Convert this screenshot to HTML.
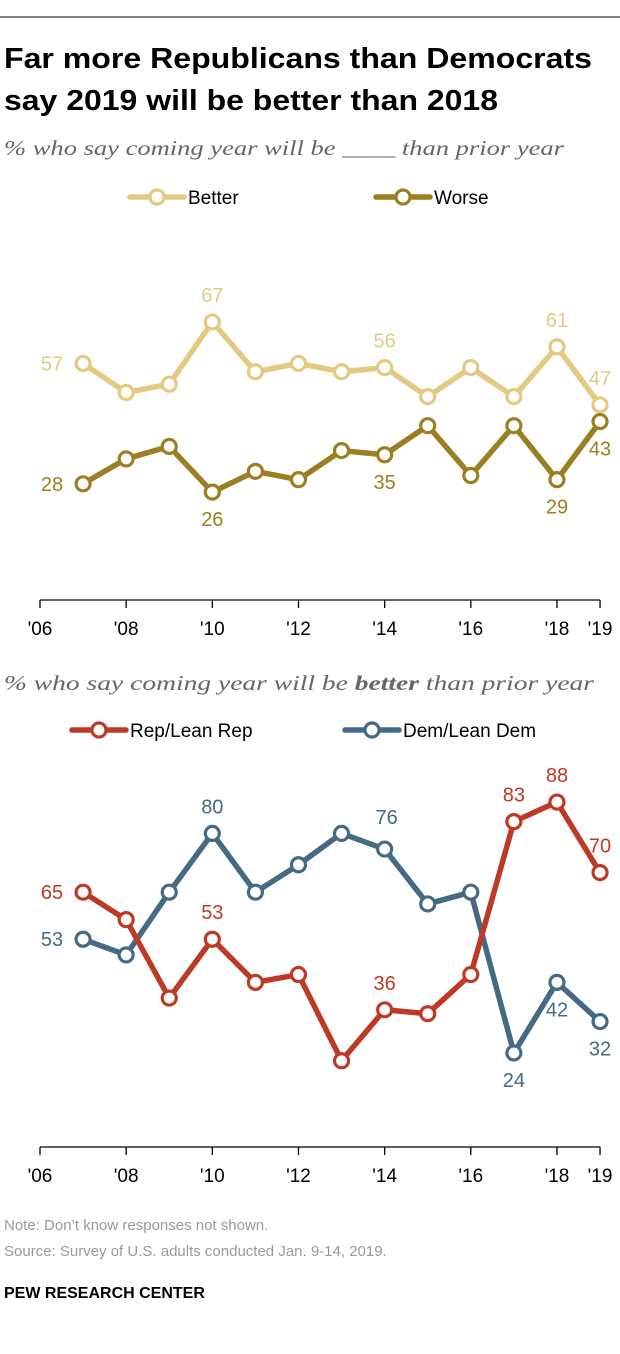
<!DOCTYPE html>
<html><head><meta charset="utf-8"><style>
body{margin:0;background:#fff;}
svg{display:block;font-family:"Liberation Sans",sans-serif;}
</style></head><body>
<svg id="c" width="620" height="1354" viewBox="0 0 620 1354" xmlns="http://www.w3.org/2000/svg">
<rect width="620" height="1354" fill="#fff"/>
<line x1="0" y1="17" x2="620" y2="17" stroke="#000" stroke-width="1"/>
<text x="4" y="68" font-size="29" font-weight="bold" fill="#000" textLength="588" lengthAdjust="spacingAndGlyphs">Far more Republicans than Democrats</text>
<text x="4" y="110" font-size="29" font-weight="bold" fill="#000" textLength="494" lengthAdjust="spacingAndGlyphs">say 2019 will be better than 2018</text>
<text x="4" y="155" font-size="21" font-style="italic" fill="#666" font-family="Liberation Serif,serif" textLength="560" lengthAdjust="spacingAndGlyphs">% who say coming year will be ____ than prior year</text>
<text x="4" y="690" font-size="21" font-style="italic" fill="#666" font-family="Liberation Serif,serif" textLength="590" lengthAdjust="spacingAndGlyphs">% who say coming year will be <tspan font-weight="bold">better</tspan> than prior year</text>
<g id="topc"></g>
<g id="botc"></g>
<text x="4" y="1230" font-size="15" fill="#999">Note: Don’t know responses not shown.</text>
<text x="4" y="1256" font-size="15" fill="#999">Source: Survey of U.S. adults conducted Jan. 9-14, 2019.</text>
<text x="4" y="1298" font-size="16" font-weight="bold" fill="#000">PEW RESEARCH CENTER</text>
</svg>
<script>
const years=[2007,2008,2009,2010,2011,2012,2013,2014,2015,2016,2017,2018,2019];
const tickYears=[2006,2008,2010,2012,2014,2016,2018,2019];
const tickLabels=["'06","'08","'10","'12","'14","'16","'18","'19"];
const better=[57,50,52,67,55,57,55,56,49,56,49,61,47];
const worse=[28,34,37,26,31,29,36,35,42,30,42,29,43];
const rep=[65,58,38,53,42,44,22,35,34,44,83,88,70];
const dem=[53,49,65,80,65,72,80,76,62,65,24,42,32];
const betterLabels=[[0,"57","left"],[3,"67","up"],[7,"56","up"],[11,"61","up"],[12,"47","up"]];
const worseLabels=[[0,"28","left"],[3,"26","down"],[7,"35","down"],[11,"29","down"],[12,"43","down"]];
const repLabels=[[0,"65","left"],[3,"53","up"],[7,"36","up"],[10,"83","up"],[11,"88","up"],[12,"70","up"]];
const demLabels=[[0,"53","left"],[3,"80","up"],[7,"76","upr"],[10,"24","down"],[11,"42","down"],[12,"32","down"]];

const NS="http://www.w3.org/2000/svg";
const xs=yr=>40+(yr-2006)*43.08;
function mk(p,tag,at){const e=document.createElementNS(NS,tag);for(const k in at)e.setAttribute(k,at[k]);p.appendChild(e);return e;}
function axis(g,y0){
  const l=mk(g,'line',{x1:xs(2006),x2:xs(2019),y1:y0,y2:y0,stroke:'#000','stroke-width':1.3});
  
  
  tickYears.forEach((t,i)=>{
    const tk=mk(g,'line',{x1:xs(t),x2:xs(t),y1:y0,y2:y0+8,stroke:'#000','stroke-width':1.3});
    
    
    const tx=mk(g,'text',{x:xs(t),y:y0+35,'font-size':19,'text-anchor':'middle',fill:'#000'});
    tx.textContent=tickLabels[i];
    
    
  });
}
function series(g,vals,yf,color,name,labels){
  const pts=vals.map((v,i)=>xs(years[i])+','+yf(v)).join(' ');
  const pl=mk(g,'polyline',{points:pts,fill:'none',stroke:color,'stroke-width':5.5,'stroke-linejoin':'round'});
  
  
  vals.forEach((v,i)=>{
    const c=mk(g,'circle',{cx:xs(years[i]),cy:yf(v),r:7,fill:'#fff',stroke:color,'stroke-width':3.2});
    
    
  });
  labels.forEach(([i,t,pos])=>{
    let px=xs(years[i]),py=yf(vals[i]),anchor='middle';
    if(pos==='left'){px-=20;py+=7;anchor='end';}
    else if(pos==='up'){py-=20;}
    else if(pos==='upr'){px+=2;py-=25;}
    else {py+=34;}
    const tx=mk(g,'text',{x:px,y:py,'font-size':20,'text-anchor':anchor,fill:color});
    tx.textContent=t;
    
    
  });
}
function legend(g,y,items){
  items.forEach(([x0,color,label,name])=>{
    const l=mk(g,'line',{x1:x0,x2:x0+54,y1:y,y2:y,stroke:color,'stroke-width':5.5,'stroke-linecap':'round'});
    
    
    const c=mk(g,'circle',{cx:x0+27,cy:y,r:7,fill:'#fff',stroke:color,'stroke-width':3.2});
    
    
    const t=mk(g,'text',{x:x0+58,y:y+7,'font-size':19,fill:'#000'});
    t.textContent=label;
    
    
  });
}
const topG=document.getElementById('topc'),botG=document.getElementById('botc');
const yT=v=>600-v*4.15, yB=v=>1147-v*3.92;
axis(topG,600);
legend(topG,197,[[130,'#e3c982','Better','better'],[376,'#9c7f22','Worse','worse']]);
series(topG,better,yT,'#e3c982','better',betterLabels);
series(topG,worse,yT,'#9c7f22','worse',worseLabels);
axis(botG,1147);
legend(botG,730,[[72,'#be3a26','Rep/Lean Rep','rep'],[345,'#456a84','Dem/Lean Dem','dem']]);
series(botG,dem,yB,'#456a84','dem',demLabels);
series(botG,rep,yB,'#be3a26','rep',repLabels);
</script>
</body></html>
